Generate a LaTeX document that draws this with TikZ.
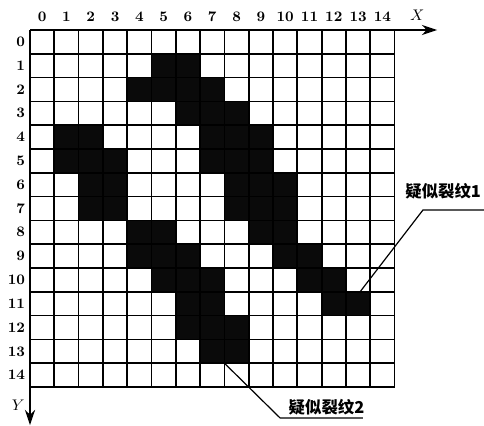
\documentclass[tikz,border=0pt]{standalone}
\usepackage{fontspec}
\newfontfamily\cjk{Noto Sans CJK SC}
\usetikzlibrary{arrows.meta, positioning}
\definecolor{crackcolor}{RGB}{10, 10, 10}
\definecolor{gridcolor}{RGB}{0, 0, 0}

\begin{document}
\begin{tikzpicture}[x=0.5cm, y=-0.4897cm, >={Stealth[length=9pt, width=6pt]}]

    \useasboundingbox (-1.235, -1.26) rectangle (18.68, 16.6);

    \tikzset{
        gridline/.style={gridcolor, line width=1pt},
        idxlabel/.style={font=\fontsize{8.5}{9}\selectfont\bfseries, inner sep=1pt},
        calloutlabel/.style={font=\cjk\bfseries\fontsize{9.6}{10}\selectfont, inner sep=1pt},
        leader/.style={black, line width=0.7pt}
    }

    % ==========================================
    % --- Suspected crack pixels (row / columns) ---
    % ==========================================
    \foreach \r/\cl in {1/{5,6}, 2/{4,5,6,7}, 3/{6,7,8}, 4/{1,2,7,8,9},
                        5/{1,2,3,7,8,9}, 6/{2,3,8,9,10}, 7/{2,3,8,9,10},
                        8/{4,5,9,10}, 9/{4,5,6,10,11}, 10/{5,6,7,11,12},
                        11/{6,7,12,13}, 12/{6,7,8}, 13/{7,8}}
    {
        \foreach \c in \cl
            \fill[crackcolor] (\c,\r) rectangle ++(1,1);
    }

    % ==========================================
    % --- Pixel grid and indices ---
    % ==========================================
    \foreach \k in {0,...,15}
    {
        \draw[gridline] (\k,0) -- (\k,15);
        \draw[gridline] (0,\k) -- (15,\k);
    }

    \foreach \i in {0,...,14}
    {
        \node[idxlabel] (col\i) at (\i+0.5, -0.55) {\i};
        \node[idxlabel, anchor=east] (row\i) at (-0.12, \i+0.5) {\i};
    }

    % Axes
    \coordinate (origin) at (0,0);
    \coordinate (xend) at (16.75, 0);
    \coordinate (yend) at (0, 16.6);
    \draw[gridline, ->] (15,0) -- (xend);
    \draw[gridline, ->] (0,15) -- (yend);
    \node[font=\itshape\small] (xlab) at (15.93, -0.63) {$X$};
    \node[font=\itshape\small] (ylab) at (-0.49, 15.76) {$Y$};

    % ==========================================
    % --- Callouts ---
    % ==========================================
    % Crack 1
    \node[calloutlabel] (crackA) at (17.0, 6.76) {疑似裂纹1};
    \coordinate (crackAtip) at (13.58, 11.0);
    \coordinate (crackAknee) at (16.17, 7.56);
    \coordinate (crackAend) at (18.68, 7.56);
    \draw[leader] (crackAtip) -- (crackAknee) -- (crackAend);

    % Crack 2
    \node[calloutlabel] (crackB) at (12.2, 15.84) {疑似裂纹2};
    \coordinate (crackBtip) at (7.95, 13.95);
    \coordinate (crackBknee) at (10.29, 16.3);
    \coordinate (crackBend) at (13.7, 16.3);
    \draw[leader] (crackBtip) -- (crackBknee) -- (crackBend);

\end{tikzpicture}
\end{document}
